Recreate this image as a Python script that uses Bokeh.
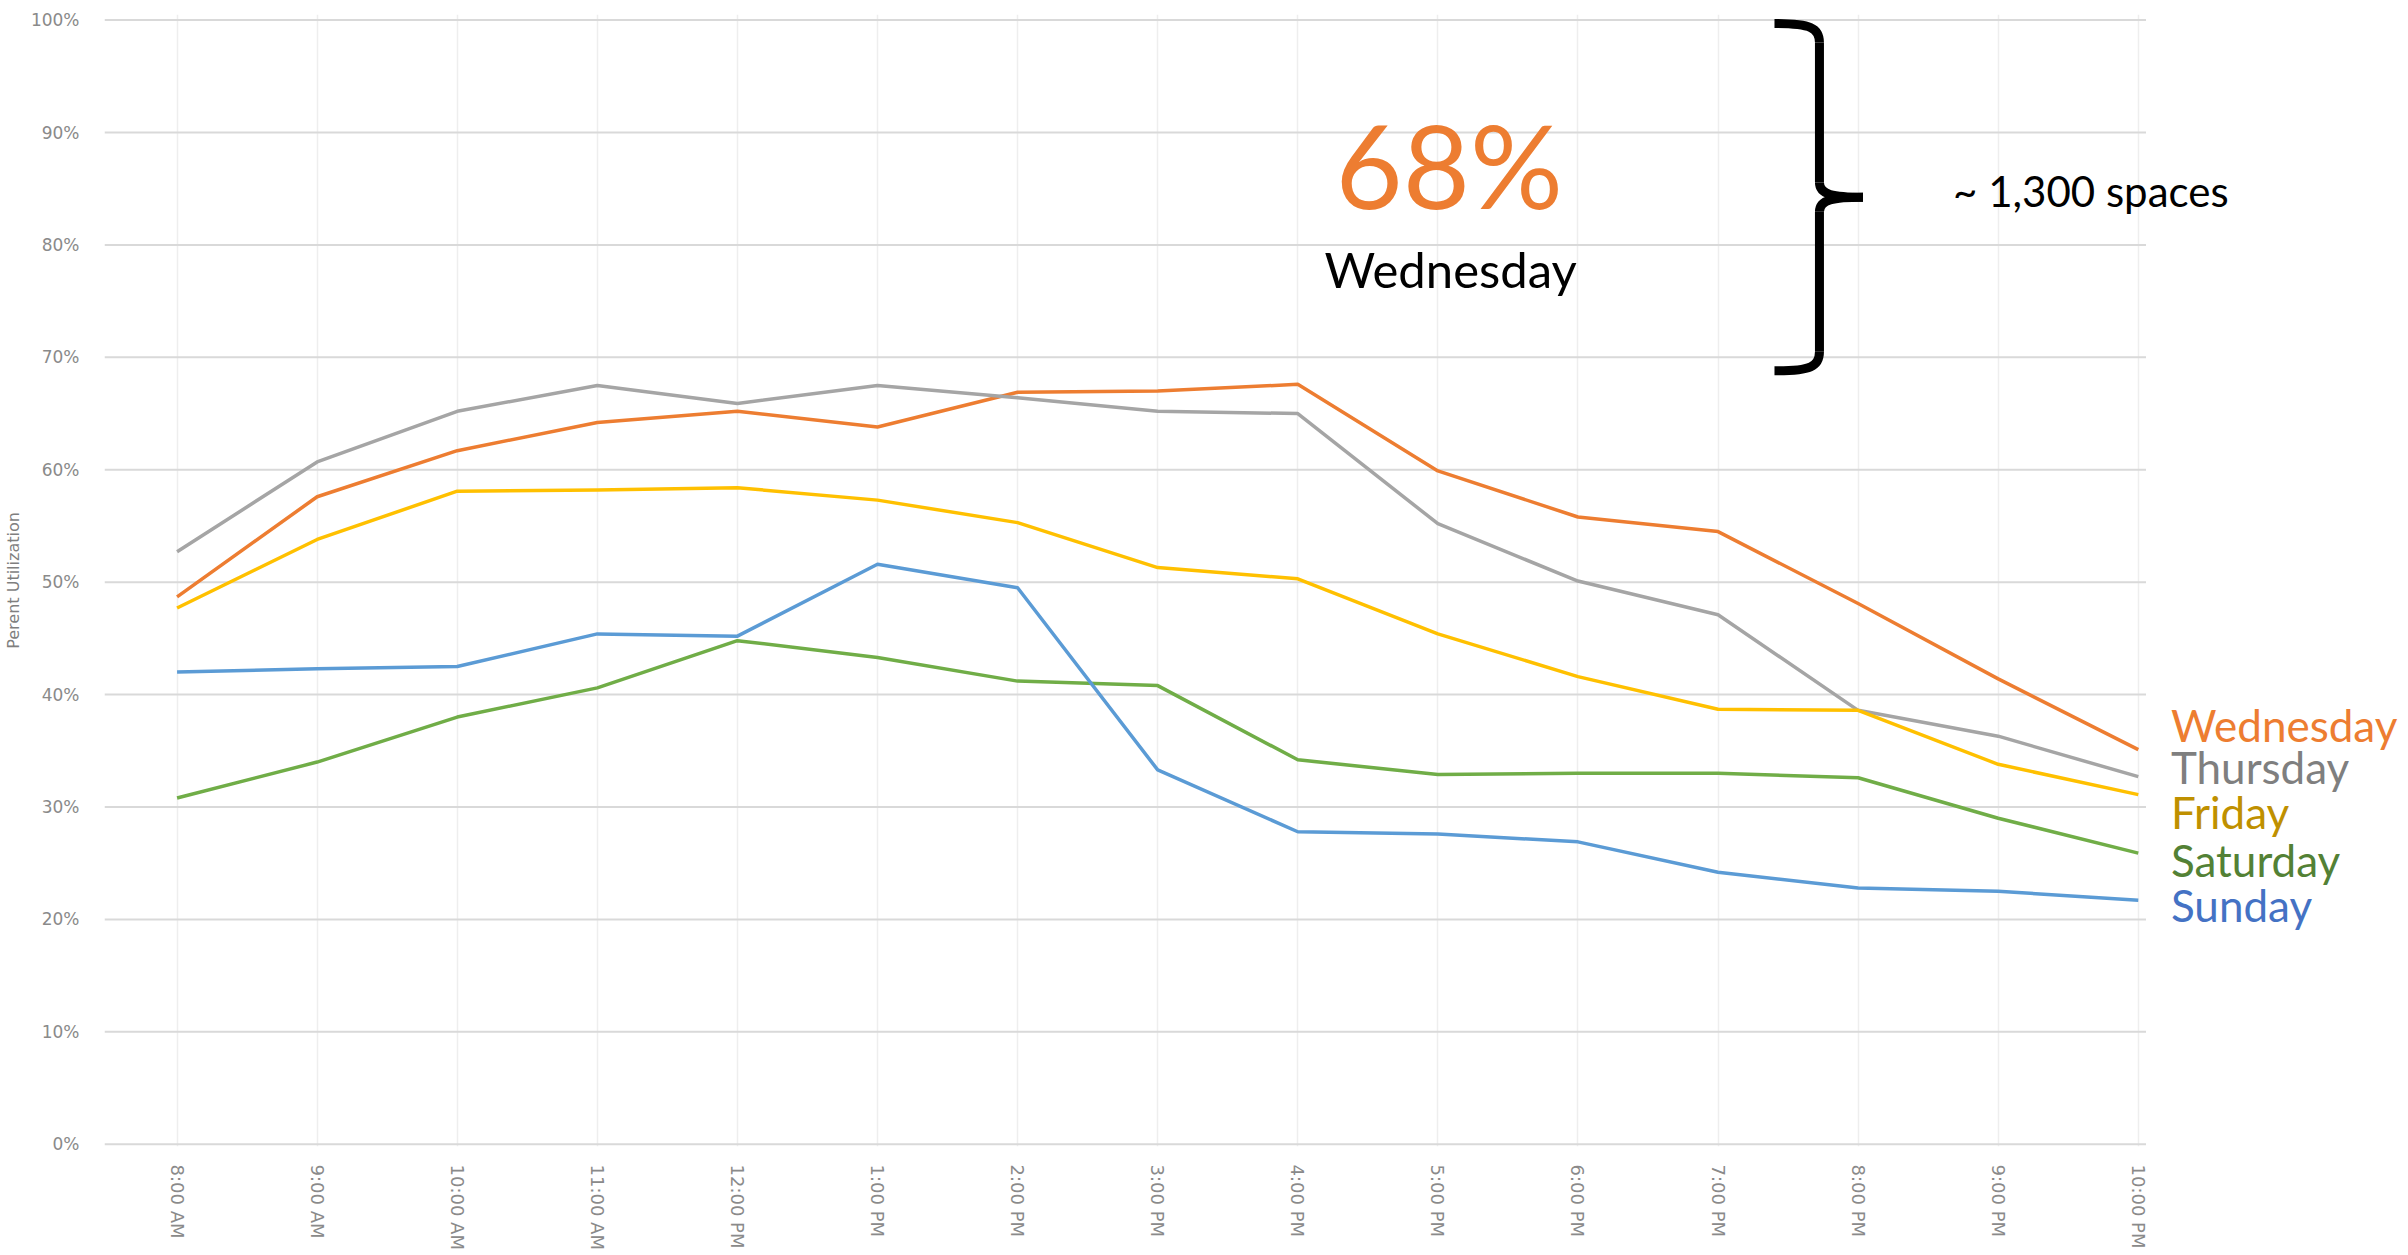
from bokeh.plotting import figure
from bokeh.models import Range1d, FixedTicker, NumeralTickFormatter, Label
from bokeh.embed import file_html
from bokeh.resources import INLINE

# ---- data ----
times = ["8:00 AM", "9:00 AM", "10:00 AM", "11:00 AM", "12:00 PM", "1:00 PM", "2:00 PM",
         "3:00 PM", "4:00 PM", "5:00 PM", "6:00 PM", "7:00 PM", "8:00 PM", "9:00 PM", "10:00 PM"]
wednesday = [0.487, 0.576, 0.617, 0.642, 0.652, 0.638, 0.669, 0.670, 0.676, 0.599, 0.558, 0.545, 0.481, 0.414, 0.351]
thursday = [0.527, 0.607, 0.652, 0.675, 0.659, 0.675, 0.664, 0.652, 0.650, 0.552, 0.501, 0.471, 0.386, 0.363, 0.327]
friday = [0.477, 0.538, 0.581, 0.582, 0.584, 0.573, 0.553, 0.513, 0.503, 0.454, 0.416, 0.387, 0.386, 0.338, 0.311]
saturday = [0.308, 0.340, 0.380, 0.406, 0.448, 0.433, 0.412, 0.408, 0.342, 0.329, 0.330, 0.330, 0.326, 0.290, 0.259]
sunday = [0.420, 0.423, 0.425, 0.454, 0.452, 0.516, 0.495, 0.333, 0.278, 0.276, 0.269, 0.242, 0.228, 0.225, 0.217]
series_names = ["Wednesday", "Thursday", "Friday", "Saturday", "Sunday"]
y_ticks = [0.0, 0.1, 0.2, 0.3, 0.4, 0.5, 0.6, 0.7, 0.8, 0.9, 1.0]
peak_value = 0.68
peak_day = "Wednesday"
capacity_note = "~ 1,300 spaces"

# ---- styles ----
line_colors = ["#ED7D31", "#A5A5A5", "#FFC000", "#70AD47", "#5B9BD5"]
text_colors = ["#ED7D31", "#7F7F7F", "#BF9000", "#538135", "#4472C4"]
FONT = "Lato"

xs = list(range(len(times)))
x_lo, x_hi = -0.518, 14.055   # extent of the chart area (gridlines)

p = figure(width=2404, height=1252, output_backend="svg", toolbar_location=None,
           x_range=Range1d(x_lo, 15.886), y_range=Range1d(-0.002, 1.005))
p.min_border_left = 104
p.min_border_right = 2
p.min_border_top = 14
p.min_border_bottom = 105
p.outline_line_color = None
p.background_fill_color = "white"
p.border_fill_color = "white"

# axes
p.xaxis.ticker = FixedTicker(ticks=xs)
p.xaxis.major_label_overrides = {i: t for i, t in zip(xs, times)}
p.xaxis.major_label_orientation = "vertical"
p.xaxis.major_label_standoff = 12
p.yaxis.ticker = FixedTicker(ticks=y_ticks)
p.yaxis.formatter = NumeralTickFormatter(format="0%")
p.yaxis.major_label_standoff = 19
p.yaxis.axis_label = "Perent Utilization"
p.yaxis.axis_label_standoff = 5
p.yaxis.axis_label_text_font_style = "normal"
p.yaxis.axis_label_text_font_size = "16px"
p.yaxis.axis_label_text_color = "#7f7f7f"
p.yaxis.axis_label_text_font = "DejaVu Sans"
for ax in (p.xaxis, p.yaxis):
    ax.axis_line_color = None
    ax.major_tick_line_color = None
    ax.minor_tick_line_color = None
    ax.major_label_text_color = "#8a8a8a"
    ax.major_label_text_font = "DejaVu Sans"
p.xaxis.major_label_text_font_size = "18px"
p.yaxis.major_label_text_font_size = "17px"

p.xgrid.grid_line_color = "#eeeeee"
p.xgrid.grid_line_width = 1.5
p.ygrid.grid_line_color = None
# horizontal gridlines limited to the chart area
p.segment(x0=[x_lo] * len(y_ticks), y0=y_ticks, x1=[x_hi] * len(y_ticks), y1=y_ticks,
          line_color="#d9d9d9", line_width=2)

# lines
for vals, col in zip([wednesday, thursday, friday, saturday, sunday], line_colors):
    p.line(xs, vals, line_color=col, line_width=3.5, line_join="round")

# big annotation
p.add_layout(Label(x=9.081, y=0.872, text=f"{round(peak_value*100)}%", text_align="center",
                   text_baseline="alphabetic", text_font=FONT, text_font_size="116px",
                   text_color="#ED7D31"))
p.add_layout(Label(x=9.091, y=0.779, text=peak_day, text_align="center",
                   text_baseline="alphabetic", text_font=FONT, text_font_size="49px",
                   text_color="black"))
p.add_layout(Label(x=12.678, y=0.848, text=capacity_note, text_align="left",
                   text_baseline="alphabetic", text_font=FONT, text_font_size="42px",
                   text_color="black"))

# brace spanning the unused capacity (from 100% down to the peak)
bx0, bx1, btip = 11.403, 11.724, 12.035
top, bot = 1.0 - 0.003, peak_value + 0.008
mid = (top + bot) / 2
hook = 0.017
bw = 9
p.bezier(x0=[bx0, bx1], y0=[top, bot + hook], x1=[bx1, bx0], y1=[top - hook, bot],
         cx0=[bx0 + 0.26, bx1], cy0=[top, bot + 0.004], cx1=[bx1, bx0 + 0.26], cy1=[top - 0.004, bot],
         line_color="black", line_width=bw, line_cap="butt")
p.segment(x0=[bx1, bx1], y0=[top - hook, mid - 0.013], x1=[bx1, bx1], y1=[mid + 0.013, bot + hook],
          line_color="black", line_width=bw, line_cap="butt")
p.bezier(x0=[bx1, btip], y0=[mid + 0.013, mid], x1=[btip, bx1], y1=[mid, mid - 0.013],
         cx0=[bx1, bx1 + 0.1], cy0=[mid + 0.002, mid], cx1=[bx1 + 0.1, bx1], cy1=[mid, mid - 0.002],
         line_color="black", line_width=bw, line_cap="butt")

# series labels at right
label_y = [0.373, 0.336, 0.296, 0.253, 0.213]
for name, col, ly in zip(series_names, text_colors, label_y):
    p.add_layout(Label(x=14.233, y=ly, text=name, text_align="left", text_baseline="alphabetic",
                       text_font=FONT, text_font_size="44px", text_color=col))

open("out.html", "w").write(file_html(p, INLINE))
